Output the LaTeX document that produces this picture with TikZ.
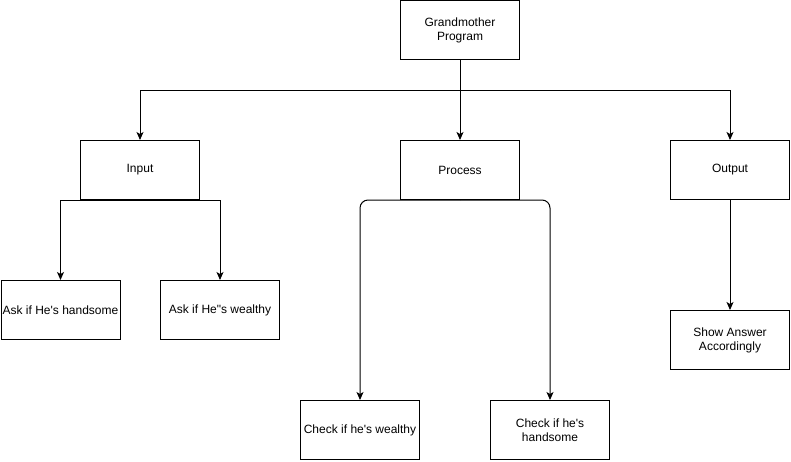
\documentclass[tikz,border=0pt]{standalone}
\usepackage{fontspec}
\setmainfont{Liberation Sans}[Ligatures=TeXOff]
\usetikzlibrary{arrows.meta}

\begin{document}
\begin{tikzpicture}[x=1pt, y=-1pt, font=\fontsize{12}{14}\selectfont,
        box/.style={draw, line width=1pt, minimum width=119pt, minimum height=59pt, align=center, inner sep=1pt},
        link/.style={line width=1pt, -{Stealth[length=8pt, width=7pt, inset=2pt]}}]
        \useasboundingbox (0,0) rectangle (791,461);
        \node[box] (gm) at (460,30) {Grandmother\\Program};
        \node[box] (in) at (140,170) {Input};
        \node[box] (pr) at (460,170) {Process};
        \node[box] (out) at (730,170) {Output};
        \node[box] (askh) at (60.5,310) {Ask if He's handsome};
        \node[box] (askw) at (220,310) {Ask if He"s wealthy};
        \node[box] (chkw) at (360,430) {Check if he's wealthy};
        \node[box] (chkh) at (550,430) {Check if he's\\handsome};
        \node[box] (show) at (730,340) {Show Answer\\Accordingly};
        % top level
        \draw[link] (gm.south) -- ++(0,30) -| (in.north);
        \draw[link] (gm.south) -- (pr.north);
        \draw[link] (gm.south) -- ++(0,30) -| (out.north);
        % input
        \draw[link] (in.south) -| (askh.north);
        \draw[link] (in.south) -| (askw.north);
        % process
        \draw[link, rounded corners=8pt] (pr.south) -| (chkw.north);
        \draw[link, rounded corners=8pt] (pr.south) -| (chkh.north);
        % output
        \draw[link] (out.south) -- (show.north);
    \end{tikzpicture}
\end{document}
